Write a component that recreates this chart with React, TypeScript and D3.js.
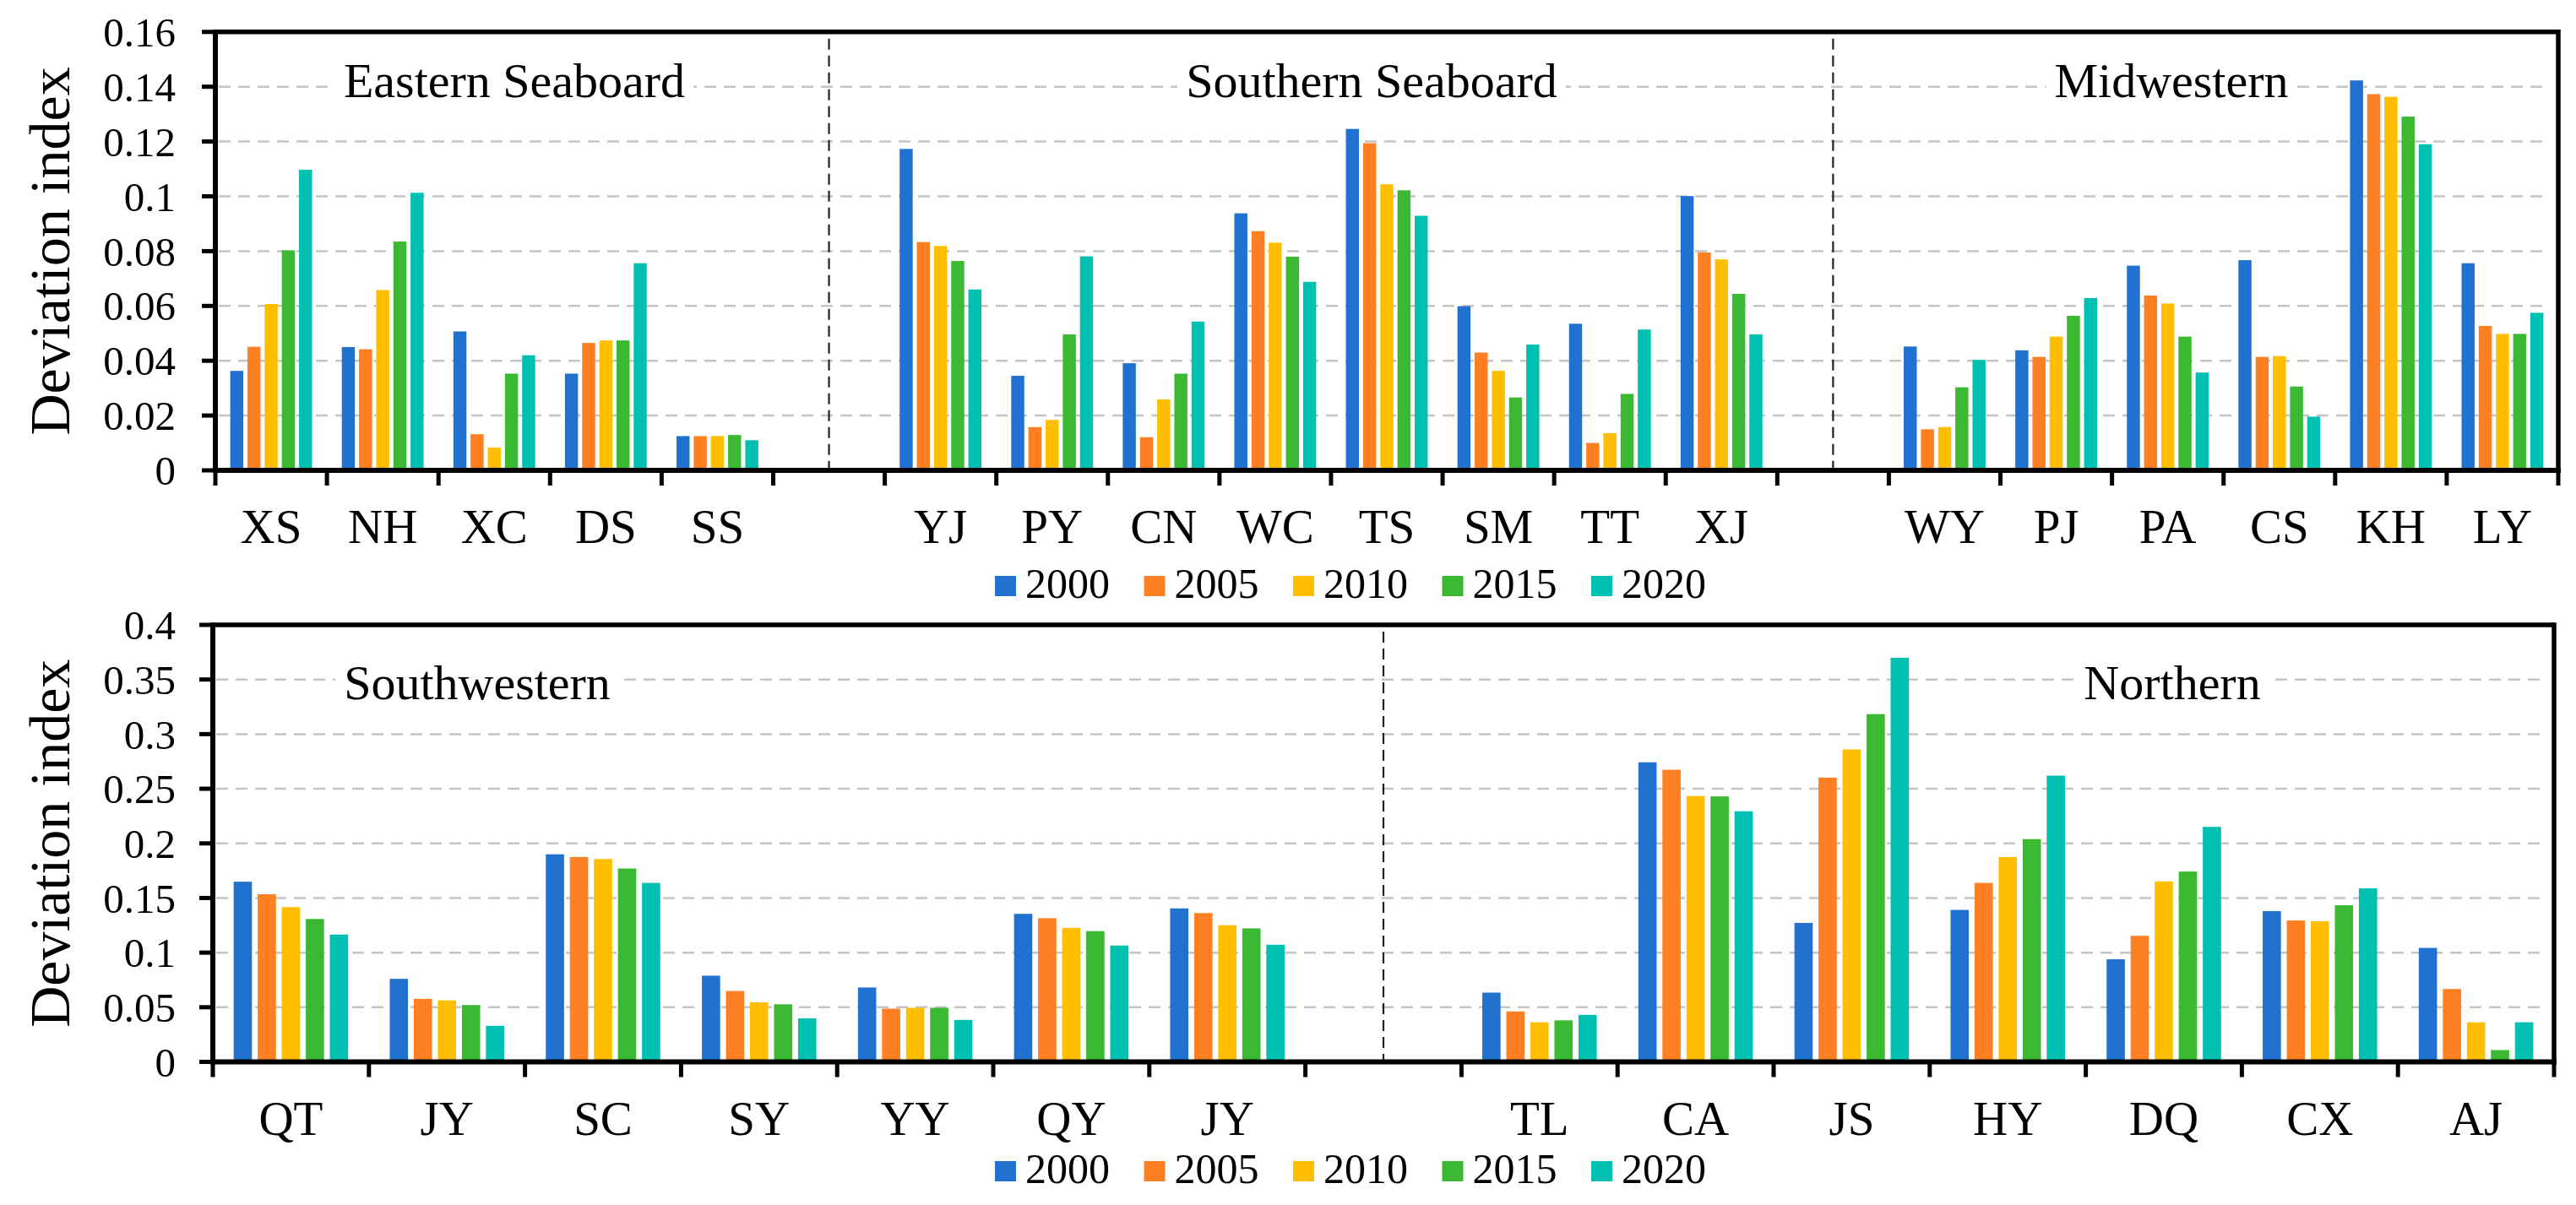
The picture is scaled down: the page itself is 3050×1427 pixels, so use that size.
import React, { useEffect } from 'react';
import * as d3 from 'd3';

const FONT = '"Liberation Serif", "Times New Roman", Times, serif';

const years = ['2000', '2005', '2010', '2015', '2020'];
const yearColors = ['#2172D0', '#FF8022', '#FFBF00', '#3CB933', '#00C0B1'];

// Top panel
const topRegions = ['Eastern Seaboard', 'Southern Seaboard', 'Midwestern'];
const topRegionSizes = [5, 8, 6];
const topCategories = ['XS', 'NH', 'XC', 'DS', 'SS', 'YJ', 'PY', 'CN', 'WC', 'TS', 'SM', 'TT', 'XJ', 'WY', 'PJ', 'PA', 'CS', 'KH', 'LY'];
const top2000 = [0.0363, 0.045, 0.0507, 0.0353, 0.0125, 0.1173, 0.0345, 0.0391, 0.0938, 0.1246, 0.0599, 0.0535, 0.1001, 0.0452, 0.0438, 0.0747, 0.0767, 0.1423, 0.0756];
const top2005 = [0.0451, 0.0442, 0.0132, 0.0465, 0.0125, 0.0833, 0.0158, 0.0121, 0.0873, 0.1194, 0.043, 0.01, 0.0795, 0.015, 0.0414, 0.0638, 0.0414, 0.1373, 0.0527];
const top2010 = [0.0607, 0.0658, 0.0083, 0.0474, 0.0125, 0.0819, 0.0184, 0.0259, 0.0831, 0.1044, 0.0363, 0.0136, 0.077, 0.0158, 0.0488, 0.0609, 0.0417, 0.1363, 0.0498];
const top2015 = [0.0803, 0.0835, 0.0353, 0.0474, 0.0129, 0.0764, 0.0496, 0.0353, 0.078, 0.1022, 0.0266, 0.0279, 0.0644, 0.0303, 0.0564, 0.0488, 0.0306, 0.1291, 0.0498];
const top2020 = [0.1097, 0.1013, 0.042, 0.0756, 0.011, 0.066, 0.0781, 0.0543, 0.0688, 0.0929, 0.0459, 0.0514, 0.0496, 0.0403, 0.0629, 0.0357, 0.0196, 0.119, 0.0575];
const topTicks = [0, 0.02, 0.04, 0.06, 0.08, 0.1, 0.12, 0.14, 0.16];

// Bottom panel
const bottomRegions = ['Southwestern', 'Northern'];
const bottomRegionSizes = [7, 7];
const bottomCategories = ['QT', 'JY', 'SC', 'SY', 'YY', 'QY', 'JY', 'TL', 'CA', 'JS', 'HY', 'DQ', 'CX', 'AJ'];
const bottom2000 = [0.1649, 0.076, 0.19, 0.0789, 0.0681, 0.1355, 0.1405, 0.0634, 0.2742, 0.1272, 0.1391, 0.0939, 0.138, 0.1043];
const bottom2005 = [0.1534, 0.0577, 0.1875, 0.0649, 0.0487, 0.1315, 0.1362, 0.0462, 0.2674, 0.2602, 0.1638, 0.1154, 0.1294, 0.0667];
const bottom2010 = [0.1416, 0.0563, 0.1857, 0.0545, 0.0495, 0.1226, 0.1251, 0.0362, 0.2434, 0.286, 0.1875, 0.1652, 0.1287, 0.0362];
const bottom2015 = [0.1308, 0.052, 0.177, 0.0527, 0.0495, 0.1197, 0.1222, 0.038, 0.243, 0.3183, 0.2039, 0.1742, 0.1434, 0.0108];
const bottom2020 = [0.1165, 0.033, 0.1638, 0.0398, 0.0384, 0.1065, 0.1072, 0.043, 0.2294, 0.3699, 0.262, 0.2151, 0.1588, 0.0362];
const bottomTicks = [0, 0.05, 0.1, 0.15, 0.2, 0.25, 0.3, 0.35, 0.4];

const yTitle = 'Deviation index';

type Slot = { id: string; label: string; gap: boolean; values: number[] };

function buildSlots(regions: string[], sizes: number[], cats: string[], series: number[][]): Slot[] {
  const slots: Slot[] = [];
  let k = 0;
  regions.forEach((r, ri) => {
    if (ri > 0) slots.push({ id: `gap-${ri}`, label: '', gap: true, values: [] });
    for (let i = 0; i < sizes[ri]; i++) {
      slots.push({ id: `${ri}-${k}`, label: cats[k], gap: false, values: series.map((s) => s[k]) });
      k++;
    }
  });
  return slots;
}

let measureCtx: CanvasRenderingContext2D | null = null;
function measure(text: string, size: number) {
  if (!measureCtx) measureCtx = document.createElement('canvas').getContext('2d');
  if (!measureCtx) return text.length * size * 0.47;
  measureCtx.font = `${size}px ${FONT}`;
  return measureCtx.measureText(text).width;
}

const fmt = (v: number) => String(+v.toFixed(2));

type PanelProps = {
  slots: Slot[];
  regions: string[];
  regionLabelX: number[];
  regionLabelY: number;
  ticks: number[];
  box: { left: number; right: number; top: number; bottom: number };
  legendY: number;
  catLabelY: number;
};

function Panel({ slots, regions, regionLabelX, regionLabelY, ticks, box, legendY, catLabelY }: PanelProps) {
  const x = d3.scaleBand<string>().domain(slots.map((s) => s.id)).range([box.left, box.right]).padding(0);
  const inner = d3.scaleBand<string>().domain(years).range([0, x.bandwidth()]).paddingInner(0.24).paddingOuter(0.865);
  const yMax = ticks[ticks.length - 1];
  const y = d3.scaleLinear().domain([0, yMax]).range([box.bottom, box.top]);
  const boundaries = slots.map((s) => x(s.id) as number).concat([box.right]);
  const gapCenters = slots.filter((s) => s.gap).map((s) => (x(s.id) as number) + x.bandwidth() / 2);
  const regionFont = 58;
  return (
    <g>
      {/* gridlines */}
      {ticks.slice(1, -1).map((t) => (
        <line key={`g${t}`} x1={box.left + 4} x2={box.right - 12} y1={y(t)} y2={y(t)} stroke="#c4c4c4" strokeWidth={2.5} strokeDasharray="14,9" />
      ))}
      {/* separators */}
      {gapCenters.map((c, i) => (
        <line key={`s${i}`} x1={c} x2={c} y1={box.top + 8} y2={box.bottom} stroke="#222" strokeWidth={2.2} strokeDasharray="13,7" />
      ))}
      {/* region labels */}
      {regions.map((r, i) => {
        const w = measure(r, regionFont);
        return (
          <g key={r}>
            <rect x={regionLabelX[i] - w / 2 - 10} y={regionLabelY - 52} width={w + 20} height={70} fill="#fff" />
            <text x={regionLabelX[i]} y={regionLabelY} textAnchor="middle" fontSize={regionFont} fontFamily={FONT} fill="#000">
              {r}
            </text>
          </g>
        );
      })}
      {/* bars */}
      {slots
        .filter((s) => !s.gap)
        .map((s) => (
          <g key={s.id}>
            {s.values.map((v, j) => (
              <rect
                key={j}
                x={(x(s.id) as number) + (inner(years[j]) as number)}
                width={inner.bandwidth()}
                y={y(v)}
                height={y(0) - y(v)}
                fill={yearColors[j]}
              />
            ))}
          </g>
        ))}
      {/* frame */}
      <line x1={box.left} x2={box.right} y1={box.top} y2={box.top} stroke="#000" strokeWidth={5.5} />
      <line x1={box.right} x2={box.right} y1={box.top - 2.75} y2={box.bottom + 3} stroke="#000" strokeWidth={5.5} />
      <line x1={box.left} x2={box.left} y1={box.top - 2.75} y2={box.bottom + 3} stroke="#000" strokeWidth={6} />
      <line x1={box.left - 3} x2={box.right + 2.75} y1={box.bottom} y2={box.bottom} stroke="#000" strokeWidth={6} />
      {/* y ticks */}
      {ticks.map((t) => (
        <g key={`t${t}`}>
          <line x1={box.left - 16} x2={box.left} y1={y(t)} y2={y(t)} stroke="#000" strokeWidth={5} />
          <text x={208} y={y(t)} dy="0.35em" textAnchor="end" fontSize={49} fontFamily={FONT} fill="#000">
            {fmt(t)}
          </text>
        </g>
      ))}
      {/* x ticks */}
      {boundaries.map((b, i) => (
        <line key={`x${i}`} x1={b} x2={b} y1={box.bottom} y2={box.bottom + 18} stroke="#000" strokeWidth={5} />
      ))}
      {/* category labels */}
      {slots
        .filter((s) => !s.gap)
        .map((s) => (
          <text key={`l${s.id}`} x={(x(s.id) as number) + x.bandwidth() / 2} y={catLabelY} textAnchor="middle" fontSize={57} fontFamily={FONT} fill="#000">
            {s.label}
          </text>
        ))}
      {/* y title */}
      <text
        transform={`translate(82, ${(box.top + box.bottom) / 2}) rotate(-90)`}
        textAnchor="middle"
        fontSize={68}
        fontFamily={FONT}
        fill="#000"
      >
        {yTitle}
      </text>
      {/* legend */}
      {years.map((yr, j) => {
        const lx = 1178 + j * 176.5;
        return (
          <g key={`lg${yr}`}>
            <rect x={lx} y={legendY - 26} width={25} height={24} fill={yearColors[j]} />
            <text x={lx + 36} y={legendY} fontSize={50} fontFamily={FONT} fill="#000">
              {yr}
            </text>
          </g>
        );
      })}
    </g>
  );
}

export default function App() {
  useEffect(() => {
    document.body.style.margin = '0';
  }, []);
  const topSlots = buildSlots(topRegions, topRegionSizes, topCategories, [top2000, top2005, top2010, top2015, top2020]);
  const bottomSlots = buildSlots(bottomRegions, bottomRegionSizes, bottomCategories, [bottom2000, bottom2005, bottom2010, bottom2015, bottom2020]);
  return (
    <svg width={3050} height={1427} style={{ position: 'absolute', left: 0, top: 0, background: '#fff' }}>
      <rect width={3050} height={1427} fill="#fff" />
      <Panel
        slots={topSlots}
        regions={topRegions}
        regionLabelX={[609, 1624, 2571]}
        regionLabelY={115}
        ticks={topTicks}
        box={{ left: 255, right: 3029, top: 37.8, bottom: 557 }}
        legendY={708}
        catLabelY={643}
      />
      <Panel
        slots={bottomSlots}
        regions={bottomRegions}
        regionLabelX={[565, 2572]}
        regionLabelY={828}
        ticks={bottomTicks}
        box={{ left: 252, right: 3024, top: 740, bottom: 1257.5 }}
        legendY={1401}
        catLabelY={1344}
      />
    </svg>
  );
}
